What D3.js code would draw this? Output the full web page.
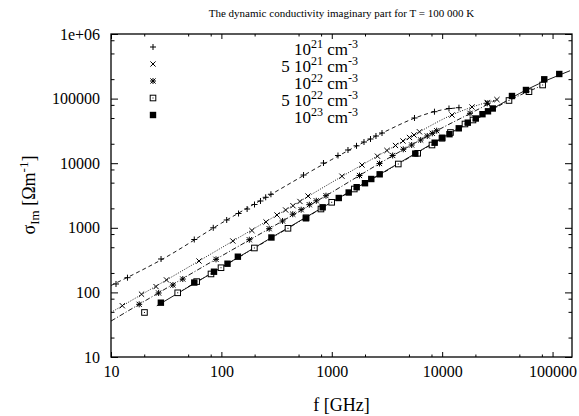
<!DOCTYPE html>
<html>
<head>
<meta charset="utf-8">
<script src="https://cdn.jsdelivr.net/npm/d3@7"></script>
<style>
body { margin: 0; background: #fff; }
svg { display: block; }
text { font-family: "Liberation Serif", "Times New Roman", serif; fill: #000; }
</style>
</head>
<body>
<script>
const w = 579
const h = 416
const plotLeft = 111, plotRight = 572, plotTop = 34, plotBottom = 357
const serif = "'Liberation Serif', 'Times New Roman', serif"

// measured points [f GHz, sigma_Im]
const plusData = [[11.1,135],[14.1,169],[28.4,329],[56.8,659],[84.4,1000],[111.7,1321],[143,1664],[171,1954],
	[199.5,2295],[226,2600],[252,2966],[281,3304],[555,6560],[841,10070],[1138,13150],[1402,16000],
	[1675,18580],[1958,21280],[2243,23700],[2513,26380],[2851,29330],[5612,50120],[8514,62700],[11530,70300],[14190,72300]]
const crossData = [[12.66,62.2],[18.9,93.8],[25.6,123],[31.8,156],[62.7,306],[127,625],[189,908],[254,1230],
	[319,1578],[382,1887],[445,2198],[515,2553],[609,3105],[1236,6295],[1879,9376],[2594,12830],[3162,15730],
	[3777,18800],[4416,22070],[5056,25020],[5556,27340],[6227,30650],[12280,55700],[18620,74130],[25620,87100],[31340,96600]]
const starData = [[18,65.4],[27,97.9],[36.4,130],[44.7,161],[89.4,325],[179,654],[271,969],[358,1275],[443,1624],
	[528,1906],[626,2278],[724,2618],[886,3140],[1782,6450],[2704,9894],[3561,13160],[4442,16420],[5292,19130],
	[6387,22870],[7328,26370],[8134,29030],[8917,31850],[17860,59200],[25620,84580]]
const boxData = [[20.1,48.9],[40.2,98.6],[59.7,147],[80.5,193],[99.2,241],[199,487],[401,982],[584,1433],[798,1954],
	[998,2481],[1599,3987],[4003,9719],[6000,14230],[8084,19130],[9958,24290],[11890,29870],[16090,40450],
	[19010,46640],[40290,93460],[61130,127900],[81340,162400]]
const fillData = [[28.3,69.3],[56.8,142],[85.7,209],[113.6,278],[141,357],[284,708],[584,1403],[827,2077],[1157,2893],
	[1423,3518],[1681,4251],[1999,4901],[2279,5692],[2716,6733],[5706,14080],[8554,20770],[10020,24810],
	[11640,28110],[14140,34690],[17060,42370],[20160,49200],[23170,57350],[26000,63600],[28730,70270],
	[42880,109700],[57420,135900],[84100,199000],[115000,240400]]

// fitted curves
const plusFit = [[10,128],[30,335],[100,1180],[300,3500],[1000,11400],[3000,30500],[6000,52000],[10000,67000],[14190,72300]]
const crossFit = [[10,49],[100,490],[300,1480],[1000,5050],[3000,14900],[6000,29500],[12000,55000],[20000,77000],[32000,97000]]
const starFit = [[10,36],[100,365],[300,1070],[1000,3550],[3000,11000],[6000,21700],[9000,32000],[18000,59000],[30000,93000]]
const boxFit = [[40,98],[100,243],[400,980],[1000,2480],[4000,9700],[10000,24300],[20000,47000],[40000,93000],[85000,165000]]
const fillFit = [[26,62],[100,244],[300,746],[1000,2500],[3000,7420],[10000,24700],[30000,73000],[60000,141000],[144000,270000]]

const seriesNames = ["10^21 cm^-3", "5 10^21 cm^-3", "10^22 cm^-3", "5 10^22 cm^-3", "10^23 cm^-3"]
const xTicks = [10, 100, 1000, 10000, 100000]
const yTicks = [10, 100, 1000, 10000, 100000, 1000000]

const series = [
	{data: plusData, fit: plusFit, sym: "plus", dash: "4,3"},
	{data: crossData, fit: crossFit, sym: "cross", dash: "1,1.5"},
	{data: starData, fit: starFit, sym: "star", dash: "5,2,1,2"},
	{data: boxData, fit: boxFit, sym: "box", dash: "4,2,1,2,1,2"},
	{data: fillData, fit: fillFit, sym: "fill", dash: null}
]

const svg = d3.select("body").append("svg")
	.attr("width", w)
	.attr("height", h)
	.attr("font-family", serif)

let xScale = d3.scaleLog().domain([10, 150000]).range([plotLeft, plotRight])
let yScale = d3.scaleLog().domain([10, 1e6]).range([plotBottom, plotTop])

let minorX = []
let minorY = []
for (let d = 10; d < 150000; d *= 10) {
	[2, 5, 8].forEach(m => { if (d * m < 150000) minorX.push(d * m) })
}
for (let d = 10; d < 1e6; d *= 10) {
	[2, 5, 8].forEach(m => minorY.push(d * m))
}

let yFmt = d => d >= 1e6 ? "1e+06" : String(d)

function styleAxis(g) {
	g.attr("font-family", serif).attr("font-size", 16)
	g.select(".domain").remove()
	g.selectAll("line").attr("stroke", "#000")
}

// x axes
svg.append("g").attr("transform", "translate(0," + plotBottom + ")")
	.call(d3.axisBottom(xScale).tickValues(xTicks).tickFormat(d3.format("d")).tickSize(-5).tickPadding(9))
	.call(styleAxis)
svg.append("g").attr("transform", "translate(0," + plotBottom + ")")
	.call(d3.axisBottom(xScale).tickValues(minorX).tickFormat("").tickSize(-2.5))
	.call(styleAxis)
svg.append("g").attr("transform", "translate(0," + plotTop + ")")
	.call(d3.axisTop(xScale).tickValues(xTicks).tickFormat("").tickSize(-5))
	.call(styleAxis)
svg.append("g").attr("transform", "translate(0," + plotTop + ")")
	.call(d3.axisTop(xScale).tickValues(minorX).tickFormat("").tickSize(-2.5))
	.call(styleAxis)

// y axes
svg.append("g").attr("transform", "translate(" + plotLeft + ",0)")
	.call(d3.axisLeft(yScale).tickValues(yTicks).tickFormat(yFmt).tickSize(-7).tickPadding(11))
	.call(styleAxis)
svg.append("g").attr("transform", "translate(" + plotLeft + ",0)")
	.call(d3.axisLeft(yScale).tickValues(minorY).tickFormat("").tickSize(-3.5))
	.call(styleAxis)
svg.append("g").attr("transform", "translate(" + plotRight + ",0)")
	.call(d3.axisRight(yScale).tickValues(yTicks).tickFormat("").tickSize(-7))
	.call(styleAxis)
svg.append("g").attr("transform", "translate(" + plotRight + ",0)")
	.call(d3.axisRight(yScale).tickValues(minorY).tickFormat("").tickSize(-3.5))
	.call(styleAxis)

svg.append("rect")
	.attr("x", plotLeft).attr("y", plotTop)
	.attr("width", plotRight - plotLeft).attr("height", plotBottom - plotTop)
	.attr("fill", "none").attr("stroke", "#000").attr("stroke-width", 1.3)

// lines
let line = d3.line()
	.x(d => xScale(d[0]))
	.y(d => yScale(d[1]))
	.curve(d3.curveMonotoneX)

series.forEach(s => {
	svg.append("path")
		.attr("d", line(s.fit))
		.attr("fill", "none")
		.attr("stroke", "#000")
		.attr("stroke-width", 0.9)
		.attr("stroke-dasharray", s.dash)
})

function drawSymbol(g, type, cx, cy) {
	let r = 3
	if (type == "plus" || type == "star") {
		g.append("path").attr("d", `M${cx-r},${cy}H${cx+r}M${cx},${cy-r}V${cy+r}`)
			.attr("stroke", "#000").attr("stroke-width", 1)
	}
	if (type == "cross" || type == "star") {
		let q = 2.6
		g.append("path").attr("d", `M${cx-q},${cy-q}L${cx+q},${cy+q}M${cx-q},${cy+q}L${cx+q},${cy-q}`)
			.attr("stroke", "#000").attr("stroke-width", 1)
	}
	if (type == "box") {
		g.append("rect").attr("x", cx - 2.8).attr("y", cy - 2.8).attr("width", 5.6).attr("height", 5.6)
			.attr("fill", "#fff").attr("stroke", "#000").attr("stroke-width", 1)
		g.append("rect").attr("x", cx - 0.5).attr("y", cy - 0.5).attr("width", 1).attr("height", 1).attr("fill", "#000")
	}
	if (type == "fill") {
		g.append("rect").attr("x", cx - 3.2).attr("y", cy - 3.2).attr("width", 6.4).attr("height", 6.4)
			.attr("fill", "#000")
	}
}

series.forEach(s => {
	let g = svg.append("g")
	s.data.forEach(d => drawSymbol(g, s.sym, xScale(d[0]), yScale(d[1])))
})

// legend
function richText(t, str, size, supSize, rise) {
	let parts = str.split(/\^([-\d]+)/)
	parts.forEach((p, i) => {
		if (p === "") return
		if (i % 2 == 1) {
			t.append("tspan").attr("font-size", supSize).attr("dy", -rise).text(p)
		} else {
			t.append("tspan").attr("font-size", size).attr("dy", i > 0 ? rise : 0).text(p)
		}
	})
}

series.forEach((s, i) => {
	let ly = 47 + i * 17
	drawSymbol(svg.append("g"), s.sym, 153, ly)
	let t = svg.append("text")
		.attr("x", 358).attr("y", ly + 7.5)
		.attr("text-anchor", "end")
	richText(t, seriesNames[i], 17, 12, 7)
})

// title and labels
svg.append("text")
	.attr("x", (plotLeft + plotRight) / 2).attr("y", 17)
	.attr("text-anchor", "middle").attr("font-size", 11)
	.text("The dynamic conductivity imaginary part for T = 100 000 K")

svg.append("text")
	.attr("x", (plotLeft + plotRight) / 2).attr("y", 411)
	.attr("text-anchor", "middle").attr("font-size", 18)
	.text("f [GHz]")

let yl = svg.append("text")
	.attr("transform", "translate(35,195) rotate(-90)")
	.attr("text-anchor", "middle").attr("font-size", 18)
yl.append("tspan").text("σ")
yl.append("tspan").attr("font-size", 13).attr("dy", 4).text("Im")
yl.append("tspan").attr("dy", -4).text(" [Ωm")
yl.append("tspan").attr("font-size", 13).attr("dy", -7).text("-1")
yl.append("tspan").attr("dy", 7).text("]")
</script>
</body>
</html>
